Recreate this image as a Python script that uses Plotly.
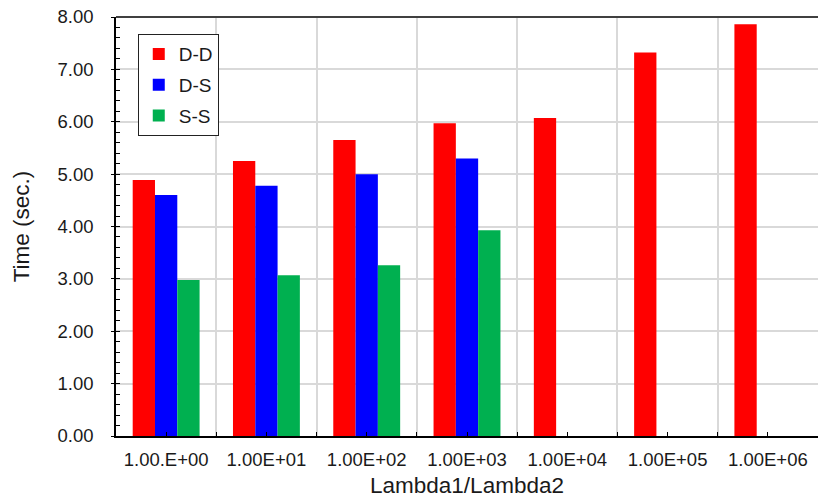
import plotly.graph_objects as go

# Ratio categories along the x axis
categories = ["1.00.E+00", "1.00E+01", "1.00E+02", "1.00E+03",
              "1.00E+04", "1.00E+05", "1.00E+06"]

# Run time in seconds for each solver combination
dd_times = [4.89, 5.25, 5.65, 5.97, 6.07, 7.32, 7.86]
ds_times = [4.60, 4.78, 5.00, 5.30, None, None, None]
ss_times = [2.98, 3.07, 3.26, 3.93, None, None, None]

y_ticks = [0, 1, 2, 3, 4, 5, 6, 7, 8]
y_labels = ["0.00", "1.00", "2.00", "3.00", "4.00", "5.00", "6.00", "7.00", "8.00"]

x_pos = list(range(len(categories)))
boundaries = [i - 0.5 for i in range(len(categories) + 1)]

series = [
    ("D-D", dd_times, "#FF0000"),
    ("D-S", ds_times, "#0000FF"),
    ("S-S", ss_times, "#00B050"),
]

fig = go.Figure()
for name, vals, color in series:
    fig.add_trace(go.Bar(
        x=x_pos, y=vals, name=name, legendgroup=name,
        marker=dict(color=color, line=dict(width=0)),
    ))

font_family = "Liberation Sans, Arial, sans-serif"

fig.update_layout(
    width=818, height=498,
    margin=dict(l=116, r=0, t=17, b=62),
    paper_bgcolor="white", plot_bgcolor="white",
    barmode="group", bargap=0.333, bargroupgap=0,
    font=dict(family=font_family, size=18.5, color="#1a1a1a"),
    showlegend=True,
    legend=dict(
        x=0.031, y=0.959, xanchor="left", yanchor="top",
        bgcolor="white", bordercolor="#222222", borderwidth=1,
        font=dict(size=19, color="#1a1a1a"),
        tracegroupgap=3, itemwidth=30,
    ),
    xaxis=dict(
        range=[-0.5, len(categories) - 0.5],
        tickmode="array", tickvals=x_pos, ticktext=categories,
        ticks="inside", ticklen=4, tickcolor="black", tickwidth=1,
        showgrid=False, zeroline=False,
        showline=True, linecolor="black", linewidth=1.5,
        ticklabelstandoff=6,
        minor=dict(tickmode="array", tickvals=boundaries,
                   ticks="inside", ticklen=4, tickcolor="black",
                   showgrid=True, gridcolor="#d9d9d9", gridwidth=1.5),
        title=dict(text="Lambda1/Lambda2", font=dict(size=22.5), standoff=10),
        fixedrange=True,
    ),
    yaxis=dict(
        range=[0, 8],
        tickmode="array", tickvals=y_ticks, ticktext=y_labels,
        ticks="outside", ticklen=3, tickcolor="black", tickwidth=1,
        showgrid=True, gridcolor="#d9d9d9", gridwidth=1.5,
        zeroline=False,
        showline=True, linecolor="black", linewidth=1.5,
        ticklabelstandoff=14,
        minor=dict(dtick=0.2, ticks="inside", ticklen=4, tickcolor="black",
                   showgrid=False),
        title=dict(text="Time (sec.)", font=dict(size=22.5), standoff=22),
        fixedrange=True,
    ),
    shapes=[dict(type="line", xref="paper", yref="paper",
                 x0=0, x1=1, y0=1, y1=1,
                 line=dict(color="#404040", width=2))],
)

fig.write_html("out.html")
